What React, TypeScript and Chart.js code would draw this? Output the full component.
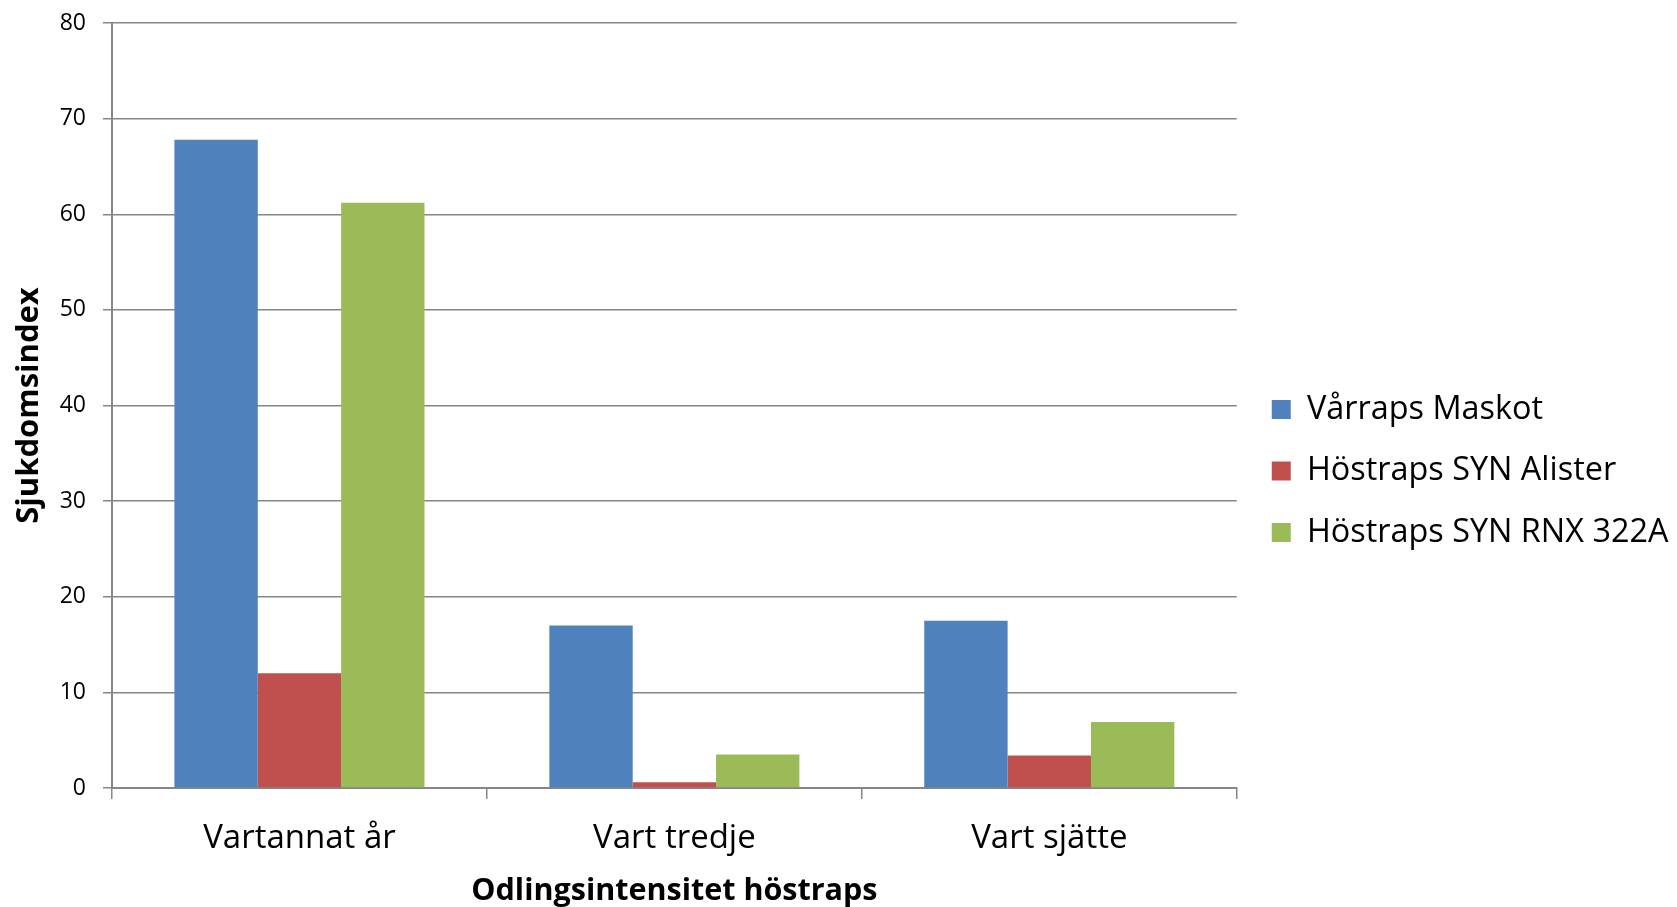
import React, { useEffect, useRef } from "react";
import { Chart, registerables } from "chart.js";

Chart.register(...registerables);

const categories = ["Vartannat år", "Vart tredje", "Vart sjätte"];
const seriesNames = ["Vårraps Maskot", "Höstraps SYN Alister", "Höstraps SYN RNX 322A"];
const varrapsMaskot = [67.8, 17.0, 17.5];
const synAlister = [12.0, 0.6, 3.4];
const synRnx322A = [61.2, 3.5, 6.9];
const seriesColors = ["#4F81BD", "#C0504D", "#9BBB59"];
const yTickMax = 80;
const yTickStep = 10;
const yTitle = "Sjukdomsindex";
const xTitle = "Odlingsintensitet höstraps";

const FONT = "'Open Sans', 'Noto Sans', sans-serif";
const GRID = "#868686";
const PAD_LEFT = -60;

export default function App() {
  const ref = useRef<HTMLCanvasElement | null>(null);

  useEffect(() => {
    if (!ref.current) return;
    const values = [varrapsMaskot, synAlister, synRnx322A];
    const chart = new Chart(ref.current, {
      type: "bar",
      data: {
        labels: categories,
        datasets: values.map((v, i) => ({
          label: seriesNames[i],
          data: v,
          backgroundColor: seriesColors[i],
          borderWidth: 0,
          categoryPercentage: 0.667,
          barPercentage: 1,
          yAxisID: "y",
        })),
      },
      options: {
        animation: false,
        responsive: true,
        maintainAspectRatio: false,
        layout: { padding: { top: 23, left: PAD_LEFT, right: 0, bottom: 0 } },
        plugins: {
          tooltip: { enabled: false },
          legend: {
            position: "right",
            align: "center",
            title: {
              display: true,
              text: " ",
              font: { size: 1, lineHeight: 1 },
              padding: { top: 0, bottom: 11 },
            },
            labels: {
              boxWidth: 19,
              boxHeight: 19,
              padding: 29,
              color: "#000",
              font: { family: FONT, size: 32.4 },
            },
          },
        },
        scales: {
          x: {
            offset: true,
            grid: {
              offset: true,
              drawOnChartArea: false,
              drawTicks: true,
              tickLength: 11,
              color: GRID,
              lineWidth: 1.5,
            },
            border: { display: true, color: GRID, width: 2 },
            ticks: {
              color: "#000",
              padding: 20,
              font: { family: FONT, size: 33 },
            },
            title: {
              display: true,
              text: xTitle,
              color: "#000",
              font: { family: FONT, size: 30.5, weight: "bold", lineHeight: 1 },
              padding: { top: 0, bottom: 0 },
            },
            afterFit: (scale: any) => {
              scale.height = 119;
            },
          },
          y: {
            min: 0,
            max: yTickMax,
            ticks: {
              stepSize: yTickStep,
              color: "#000",
              padding: 17,
              font: { family: FONT, size: 23 },
            },
            grid: {
              color: GRID,
              lineWidth: 1.5,
              drawTicks: true,
              tickLength: 9,
            },
            border: { display: true, color: GRID, width: 2 },
            title: {
              display: true,
              text: yTitle,
              color: "#000",
              font: { family: FONT, size: 31, weight: "bold", lineHeight: 1.2 },
              padding: { top: 11 - PAD_LEFT, bottom: 0 },
            },
            afterFit: (scale: any) => {
              scale.width = 112 - PAD_LEFT;
              scale.paddingTop = 0;
              scale.paddingBottom = 0;
            },
          },
          gap: {
            type: "linear",
            position: "right",
            display: false,
            afterFit: (scale: any) => {
              scale.width = 6;
            },
          },
        },
      },
    });
    return () => chart.destroy();
  }, []);

  return (
    <div
      style={{
        position: "fixed",
        left: 0,
        top: 0,
        width: 1677,
        height: 907,
        background: "#fff",
      }}
    >
      <canvas ref={ref} />
    </div>
  );
}
